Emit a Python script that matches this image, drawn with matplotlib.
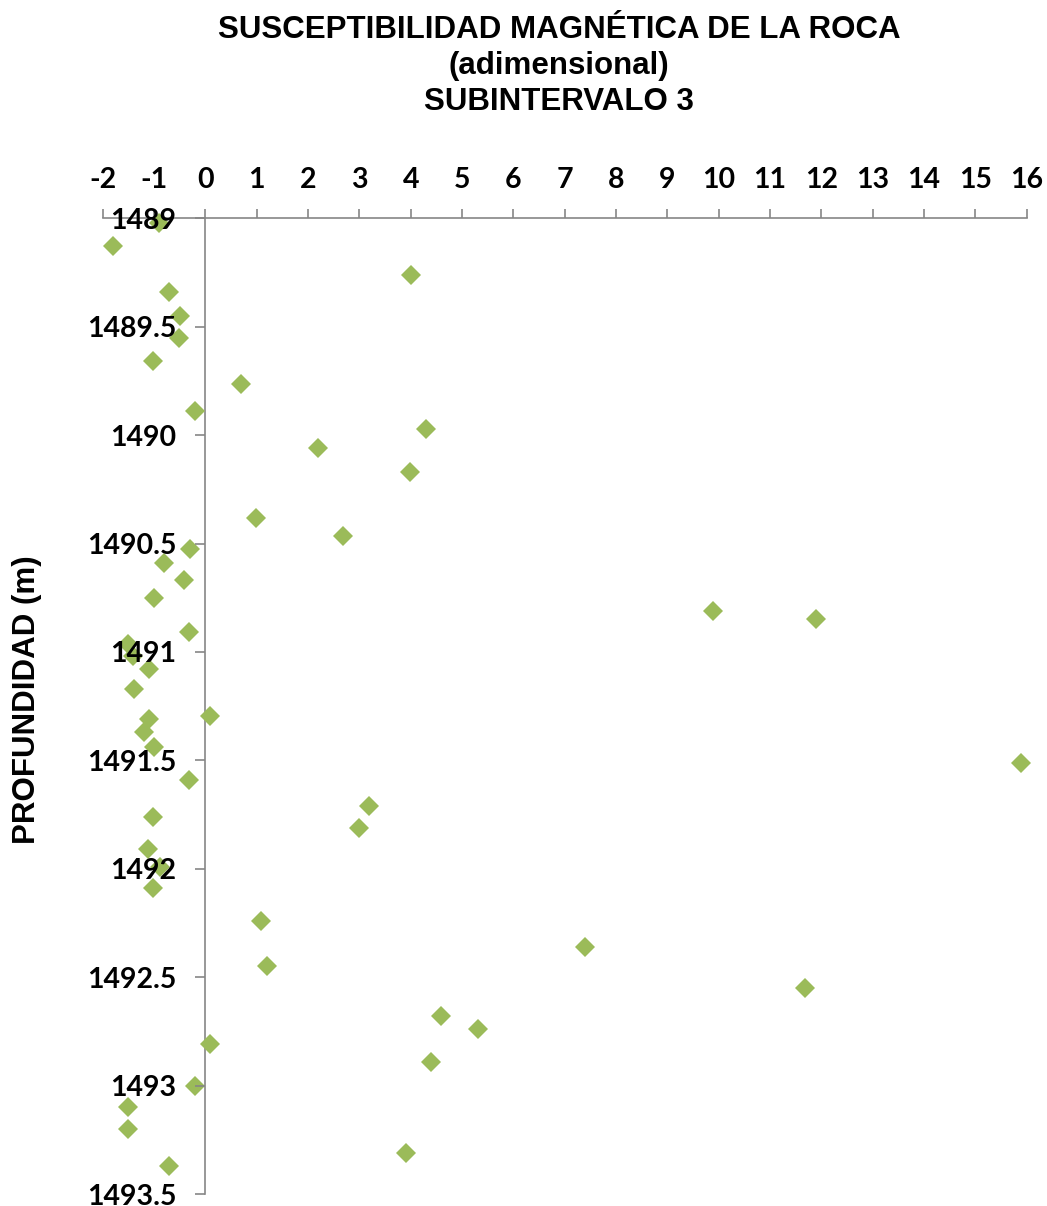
import matplotlib
matplotlib.use("Agg")
import matplotlib.pyplot as plt
import numpy as np

# Data
susceptibilidad = [-0.90, -1.80, 4.00, -0.71, -0.49, -0.51, -1.02, 0.70, -0.20, 4.30,
                   2.20, 3.99, 0.99, 2.69, -0.30, -0.80, -0.42, -1.01, 9.89, 11.90,
                   -0.31, -1.50, -1.41, -1.10, -1.40, 0.09, -1.10, -1.19, -1.01, 15.88,
                   -0.31, 3.19, -1.02, 3.00, -1.11, -0.88, -1.02, 1.09, 7.40, 1.20,
                   11.69, 4.59, 5.31, 0.09, 4.39, -0.20, -1.50, -1.50, 3.90, -0.70]
profundidad = [1489.02, 1489.13, 1489.26, 1489.34, 1489.45, 1489.55, 1489.66, 1489.765, 1489.89, 1489.97,
               1490.06, 1490.17, 1490.38, 1490.465, 1490.527, 1490.59, 1490.67, 1490.75, 1490.81, 1490.85,
               1490.91, 1490.965, 1491.02, 1491.08, 1491.17, 1491.295, 1491.31, 1491.37, 1491.44, 1491.51,
               1491.59, 1491.71, 1491.76, 1491.81, 1491.91, 1491.99, 1492.09, 1492.24, 1492.36, 1492.45,
               1492.55, 1492.68, 1492.74, 1492.81, 1492.89, 1493.00, 1493.10, 1493.20, 1493.31, 1493.37]

x_ticks = list(range(-2, 17))
y_ticks = [1489, 1489.5, 1490, 1490.5, 1491, 1491.5, 1492, 1492.5, 1493, 1493.5]
y_tick_labels = ["1489", "1489.5", "1490", "1490.5", "1491", "1491.5", "1492", "1492.5", "1493", "1493.5"]

title_lines = ["SUSCEPTIBILIDAD MAGNÉTICA DE LA ROCA", "(adimensional)", "SUBINTERVALO 3"]
y_label = "PROFUNDIDAD (m)"

W, H, DPI = 1047, 1206, 100
fig = plt.figure(figsize=(W / DPI, H / DPI), dpi=DPI)

left_px, right_px, top_px, bottom_px = 102.7, 1026.7, 218.3, 1194.0
ax = fig.add_axes([left_px / W, 1 - bottom_px / H, (right_px - left_px) / W, (bottom_px - top_px) / H])

axis_color = "#868686"
green = "#9BBB59"

ax.plot(susceptibilidad, profundidad, linestyle="none", marker="D", markersize=10.2,
        markerfacecolor=green, markeredgecolor=green, markeredgewidth=0, zorder=1, clip_on=False)

ax.set_xlim(-2, 16)
ax.set_ylim(1493.5, 1489)

for s in ["bottom", "right"]:
    ax.spines[s].set_visible(False)
ax.spines["left"].set_position(("data", 0))
for s in ["left", "top"]:
    ax.spines[s].set_color(axis_color)
    ax.spines[s].set_linewidth(1.2)
    ax.spines[s].set_zorder(0.5)

ax.xaxis.set_ticks_position("top")
ax.xaxis.set_label_position("top")
ax.set_xticks(x_ticks)
ax.set_xticklabels([str(v) for v in x_ticks])
ax.set_yticks(y_ticks)
ax.set_yticklabels(y_tick_labels)

for lab in ax.get_xticklabels() + ax.get_yticklabels():
    lab.set_fontfamily(["Lato", "DejaVu Sans"])
    lab.set_fontweight("bold")
    lab.set_fontsize(20.5)
    lab.set_color("black")

ax.tick_params(axis="x", which="major", direction="out", length=6.5, width=1.2,
               color=axis_color, pad=12)
ax.tick_params(axis="y", which="major", direction="out", length=7, width=1.2,
               color=axis_color, pad=14)
ax.patch.set_visible(False)

title_font = dict(family=["Liberation Sans", "DejaVu Sans"], weight="bold", size=22.5)
baselines = [38, 74, 110]
for line, b in zip(title_lines, baselines):
    fig.text(559 / W, 1 - b / H, line, ha="center", va="baseline", **title_font)

fig.text(27 / W, 1 - 700 / H, y_label, rotation=90, ha="center", va="center", **title_font)

fig.savefig("out.png", dpi=DPI)
